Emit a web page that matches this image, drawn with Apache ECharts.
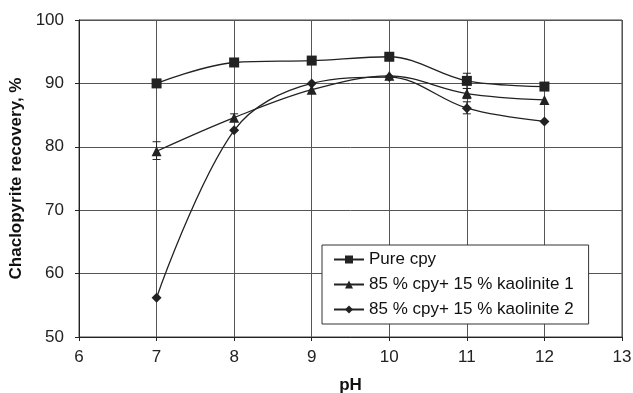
<!DOCTYPE html>
<html><head><meta charset="utf-8">
<script src="https://cdn.jsdelivr.net/npm/echarts@6/dist/echarts.min.js"></script>
<style>html,body{margin:0;padding:0;background:#fff}#c{width:633px;height:393px}</style>
</head><body><div id="c"></div>
<script>
const pH = [7, 8, 9, 10, 11, 12];
const seriesNames = ['Pure cpy', '85 % cpy+ 15 % kaolinite 1', '85 % cpy+ 15 % kaolinite 2'];
const pureCpy = [90.0, 93.3, 93.6, 94.2, 90.4, 89.5];
const kaolinite1 = [79.3, 84.6, 89.0, 91.2, 88.4, 87.4];
const kaolinite2 = [56.2, 82.6, 90.0, 91.0, 86.1, 84.0];
// error bars: [pH, low, high]
const errPure = [[11, 89.2, 91.6]];
const errK1 = [[7, 78.0, 80.8], [8, 84.0, 85.2], [11, 87.6, 89.2]];
const errK2 = [[11, 85.2, 87.1]];
const xTicks = [6, 7, 8, 9, 10, 11, 12, 13];
const yTicks = [50, 60, 70, 80, 90, 100];

const chart = echarts.init(document.getElementById('c'));
const font = 'Liberation Sans, Arial, sans-serif';
function pts(v){ return pH.map((x,i)=>[x, v[i]]); }
function errSeries(data){
  return {
    type: 'custom', silent: true, z: 1,
    renderItem: function(params, api){
      const x = api.value(0);
      const lo = api.coord([x, api.value(1)]);
      const hi = api.coord([x, api.value(2)]);
      const w = 4;
      return { type: 'group', children: [
        {type:'line', shape:{x1:lo[0],y1:lo[1],x2:hi[0],y2:hi[1]}, style:{stroke:'#222',lineWidth:1}},
        {type:'line', shape:{x1:lo[0]-w,y1:lo[1],x2:lo[0]+w,y2:lo[1]}, style:{stroke:'#222',lineWidth:1}},
        {type:'line', shape:{x1:hi[0]-w,y1:hi[1],x2:hi[0]+w,y2:hi[1]}, style:{stroke:'#222',lineWidth:1}}
      ]};
    },
    data: data
  };
}
const lineBase = {type:'line', smooth:0.35, lineStyle:{color:'#222', width:1.3}, itemStyle:{color:'#222'}, z:3};
chart.setOption({
  animation: false,
  textStyle: {fontFamily: font},
  grid: {left: 79, right: 11, top: 20, bottom: 56, containLabel: false, outerBoundsMode: 'none',
         show: true, borderColor: '#444', borderWidth: 1},
  legend: {
    orient: 'vertical', left: 322, top: 245,
    backgroundColor: '#fff', borderColor: '#333', borderWidth: 1,
    padding: [6, 15, 6, 11], itemGap: 8, itemWidth: 30, itemHeight: 10,
    textStyle: {fontSize: 17, color: '#111', fontFamily: font},
    data: seriesNames
  },
  xAxis: {
    type: 'value', min: 6, max: 13, interval: 1,
    name: 'pH', nameLocation: 'middle', nameGap: 40,
    nameTextStyle: {fontSize: 17, fontWeight: 'bold', color: '#111'},
    axisLine: {lineStyle: {color: '#222'}},
    axisTick: {show: true, length: 4, lineStyle:{color:'#222'}},
    axisLabel: {fontSize: 17, color: '#222', margin: 12, formatter: v => xTicks.includes(v) ? String(v) : ''},
    splitLine: {show: true, lineStyle: {color: '#555', width: 1}}
  },
  yAxis: {
    type: 'value', min: 50, max: 100, interval: 10,
    name: 'Chaclopyrite recovery, %', nameLocation: 'middle', nameGap: 46,
    nameTextStyle: {fontSize: 17, fontWeight: 'bold', color: '#111'},
    axisLine: {show: true, lineStyle: {color: '#222'}},
    axisTick: {show: true, length: 4, lineStyle:{color:'#222'}},
    axisLabel: {fontSize: 17, color: '#222', margin: 15, formatter: v => yTicks.includes(v) ? String(v) : ''},
    splitLine: {show: true, lineStyle: {color: '#555', width: 1}}
  },
  series: [
    Object.assign({}, lineBase, {name: seriesNames[0], symbol: 'rect', symbolSize: 10, data: pts(pureCpy)}),
    Object.assign({}, lineBase, {name: seriesNames[1], symbol: 'triangle', symbolSize: 10, data: pts(kaolinite1)}),
    Object.assign({}, lineBase, {name: seriesNames[2], symbol: 'diamond', symbolSize: 10, data: pts(kaolinite2)}),
    errSeries(errPure), errSeries(errK1), errSeries(errK2)
  ]
});
</script></body></html>
